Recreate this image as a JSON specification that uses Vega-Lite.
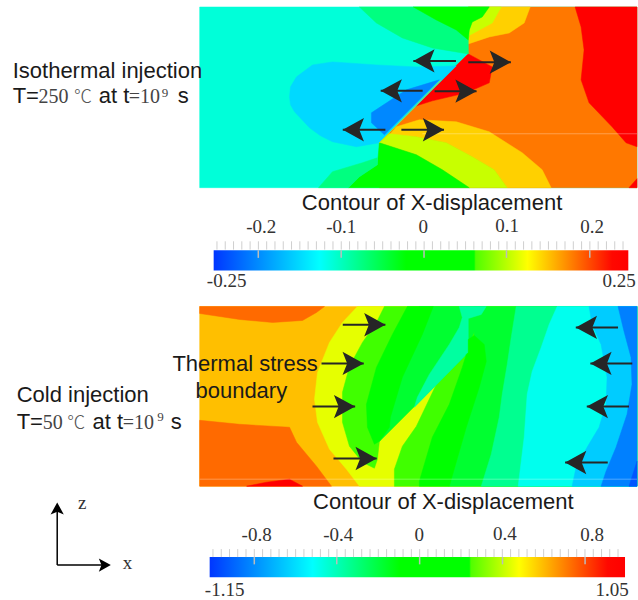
{"$schema":"https://vega.github.io/schema/vega-lite/v6.json","width":638,"height":600,"padding":0,"autosize":{"type":"fit","contains":"padding"},"background":"white","config":{"view":{"stroke":null}},
"datasets":{
"regions":[
{"region":"a01","band":"aqua","seq":1,"x":200,"y":7},{"region":"a01","band":"aqua","seq":2,"x":638,"y":7},{"region":"a01","band":"aqua","seq":3,"x":638,"y":188},{"region":"a01","band":"aqua","seq":4,"x":200,"y":188},
{"region":"a02","band":"orange","seq":1,"x":469,"y":7},{"region":"a02","band":"orange","seq":2,"x":638,"y":7},{"region":"a02","band":"orange","seq":3,"x":638,"y":188},{"region":"a02","band":"orange","seq":4,"x":380,"y":188},{"region":"a02","band":"orange","seq":5,"x":380,"y":143},{"region":"a02","band":"orange","seq":6,"x":469,"y":54},
{"region":"a03","band":"red","seq":1,"x":576,"y":7},{"region":"a03","band":"red","seq":2,"x":638,"y":7},{"region":"a03","band":"red","seq":3,"x":638,"y":147},{"region":"a03","band":"red","seq":4,"x":627,"y":143},{"region":"a03","band":"red","seq":5,"x":613,"y":127},{"region":"a03","band":"red","seq":6,"x":590,"y":103},{"region":"a03","band":"red","seq":7,"x":582,"y":80},{"region":"a03","band":"red","seq":8,"x":585,"y":50},{"region":"a03","band":"red","seq":9,"x":582,"y":27},
{"region":"a04","band":"red","seq":1,"x":638,"y":179},{"region":"a04","band":"red","seq":2,"x":630,"y":188},{"region":"a04","band":"red","seq":3,"x":638,"y":188},
{"region":"a05","band":"gold","seq":1,"x":469,"y":7},{"region":"a05","band":"gold","seq":2,"x":531,"y":7},{"region":"a05","band":"gold","seq":3,"x":525,"y":23},{"region":"a05","band":"gold","seq":4,"x":510,"y":33},{"region":"a05","band":"gold","seq":5,"x":490,"y":37},{"region":"a05","band":"gold","seq":6,"x":469,"y":44},
{"region":"a06","band":"red","seq":1,"x":469,"y":54},{"region":"a06","band":"red","seq":2,"x":493,"y":67},{"region":"a06","band":"red","seq":3,"x":490,"y":83},{"region":"a06","band":"red","seq":4,"x":467,"y":93},{"region":"a06","band":"red","seq":5,"x":433,"y":101},{"region":"a06","band":"red","seq":6,"x":414,"y":107},
{"region":"a07","band":"sky","seq":1,"x":290,"y":97},{"region":"a07","band":"sky","seq":2,"x":291,"y":87},{"region":"a07","band":"sky","seq":3,"x":297,"y":77},{"region":"a07","band":"sky","seq":4,"x":313,"y":65},{"region":"a07","band":"sky","seq":5,"x":333,"y":62},{"region":"a07","band":"sky","seq":6,"x":377,"y":65},{"region":"a07","band":"sky","seq":7,"x":417,"y":67},{"region":"a07","band":"sky","seq":8,"x":457,"y":66},{"region":"a07","band":"sky","seq":9,"x":380,"y":143},{"region":"a07","band":"sky","seq":10,"x":357,"y":147},{"region":"a07","band":"sky","seq":11,"x":333,"y":142},{"region":"a07","band":"sky","seq":12,"x":321,"y":136},{"region":"a07","band":"sky","seq":13,"x":310,"y":128},{"region":"a07","band":"sky","seq":14,"x":295,"y":112},{"region":"a07","band":"sky","seq":15,"x":291,"y":105},
{"region":"a08","band":"azure","seq":1,"x":440,"y":80},{"region":"a08","band":"azure","seq":2,"x":407,"y":90},{"region":"a08","band":"azure","seq":3,"x":372,"y":113},{"region":"a08","band":"azure","seq":4,"x":372,"y":123},{"region":"a08","band":"azure","seq":5,"x":385,"y":135},
{"region":"a09","band":"gold","seq":1,"x":397,"y":127},{"region":"a09","band":"gold","seq":2,"x":420,"y":120},{"region":"a09","band":"gold","seq":3,"x":457,"y":122},{"region":"a09","band":"gold","seq":4,"x":490,"y":132},{"region":"a09","band":"gold","seq":5,"x":523,"y":153},{"region":"a09","band":"gold","seq":6,"x":543,"y":170},{"region":"a09","band":"gold","seq":7,"x":552,"y":188},{"region":"a09","band":"gold","seq":8,"x":508,"y":188},{"region":"a09","band":"gold","seq":9,"x":495,"y":170},{"region":"a09","band":"gold","seq":10,"x":473,"y":157},{"region":"a09","band":"gold","seq":11,"x":447,"y":143},{"region":"a09","band":"gold","seq":12,"x":417,"y":137},{"region":"a09","band":"gold","seq":13,"x":390,"y":135},
{"region":"a10","band":"lemon","seq":1,"x":380,"y":143},{"region":"a10","band":"lemon","seq":2,"x":390,"y":134},{"region":"a10","band":"lemon","seq":3,"x":417,"y":137},{"region":"a10","band":"lemon","seq":4,"x":447,"y":143},{"region":"a10","band":"lemon","seq":5,"x":473,"y":157},{"region":"a10","band":"lemon","seq":6,"x":495,"y":170},{"region":"a10","band":"lemon","seq":7,"x":508,"y":188},{"region":"a10","band":"lemon","seq":8,"x":470,"y":188},{"region":"a10","band":"lemon","seq":9,"x":443,"y":170},{"region":"a10","band":"lemon","seq":10,"x":417,"y":155},
{"region":"a11","band":"green","seq":1,"x":380,"y":143},{"region":"a11","band":"green","seq":2,"x":417,"y":155},{"region":"a11","band":"green","seq":3,"x":443,"y":170},{"region":"a11","band":"green","seq":4,"x":470,"y":188},{"region":"a11","band":"green","seq":5,"x":349,"y":188},{"region":"a11","band":"green","seq":6,"x":360,"y":177},{"region":"a11","band":"green","seq":7,"x":378,"y":165},
{"region":"a12","band":"sea","seq":1,"x":378,"y":158},{"region":"a12","band":"sea","seq":2,"x":363,"y":163},{"region":"a12","band":"sea","seq":3,"x":333,"y":172},{"region":"a12","band":"sea","seq":4,"x":319,"y":188},{"region":"a12","band":"sea","seq":5,"x":349,"y":188},{"region":"a12","band":"sea","seq":6,"x":360,"y":177},{"region":"a12","band":"sea","seq":7,"x":378,"y":165},
{"region":"a13","band":"sea","seq":1,"x":360,"y":7},{"region":"a13","band":"sea","seq":2,"x":377,"y":23},{"region":"a13","band":"sea","seq":3,"x":403,"y":38},{"region":"a13","band":"sea","seq":4,"x":433,"y":48},{"region":"a13","band":"sea","seq":5,"x":469,"y":54},{"region":"a13","band":"sea","seq":6,"x":469,"y":40},{"region":"a13","band":"sea","seq":7,"x":472,"y":23},{"region":"a13","band":"sea","seq":8,"x":490,"y":7},
{"region":"a14","band":"lemon","seq":1,"x":490,"y":7},{"region":"a14","band":"lemon","seq":2,"x":502,"y":7},{"region":"a14","band":"lemon","seq":3,"x":493,"y":23},{"region":"a14","band":"lemon","seq":4,"x":469,"y":36},{"region":"a14","band":"lemon","seq":5,"x":469,"y":40},{"region":"a14","band":"lemon","seq":6,"x":470,"y":30},{"region":"a14","band":"lemon","seq":7,"x":473,"y":22},{"region":"a14","band":"lemon","seq":8,"x":483,"y":17},
{"region":"a15","band":"green","seq":1,"x":414,"y":7},{"region":"a15","band":"green","seq":2,"x":437,"y":20},{"region":"a15","band":"green","seq":3,"x":457,"y":30},{"region":"a15","band":"green","seq":4,"x":469,"y":40},{"region":"a15","band":"green","seq":5,"x":470,"y":30},{"region":"a15","band":"green","seq":6,"x":473,"y":22},{"region":"a15","band":"green","seq":7,"x":483,"y":17},{"region":"a15","band":"green","seq":8,"x":490,"y":7},
{"region":"b01","band":"amber","seq":1,"x":200,"y":307},{"region":"b01","band":"amber","seq":2,"x":638,"y":307},{"region":"b01","band":"amber","seq":3,"x":638,"y":487},{"region":"b01","band":"amber","seq":4,"x":200,"y":487},
{"region":"b02","band":"tangerine","seq":1,"x":200,"y":307},{"region":"b02","band":"tangerine","seq":2,"x":325,"y":307},{"region":"b02","band":"tangerine","seq":3,"x":317,"y":313},{"region":"b02","band":"tangerine","seq":4,"x":303,"y":321},{"region":"b02","band":"tangerine","seq":5,"x":273,"y":323},{"region":"b02","band":"tangerine","seq":6,"x":240,"y":320},{"region":"b02","band":"tangerine","seq":7,"x":200,"y":314},
{"region":"b03","band":"tangerine","seq":1,"x":200,"y":421},{"region":"b03","band":"tangerine","seq":2,"x":240,"y":425},{"region":"b03","band":"tangerine","seq":3,"x":290,"y":428},{"region":"b03","band":"tangerine","seq":4,"x":297,"y":443},{"region":"b03","band":"tangerine","seq":5,"x":317,"y":467},{"region":"b03","band":"tangerine","seq":6,"x":332,"y":487},{"region":"b03","band":"tangerine","seq":7,"x":200,"y":487},
{"region":"b04","band":"red","seq":1,"x":247,"y":487},{"region":"b04","band":"red","seq":2,"x":267,"y":483},{"region":"b04","band":"red","seq":3,"x":290,"y":480},{"region":"b04","band":"red","seq":4,"x":303,"y":487},
{"region":"b05","band":"yellow","seq":1,"x":358,"y":307},{"region":"b05","band":"yellow","seq":2,"x":343,"y":323},{"region":"b05","band":"yellow","seq":3,"x":330,"y":343},{"region":"b05","band":"yellow","seq":4,"x":318,"y":373},{"region":"b05","band":"yellow","seq":5,"x":315,"y":400},{"region":"b05","band":"yellow","seq":6,"x":318,"y":423},{"region":"b05","band":"yellow","seq":7,"x":330,"y":450},{"region":"b05","band":"yellow","seq":8,"x":347,"y":470},{"region":"b05","band":"yellow","seq":9,"x":360,"y":487},{"region":"b05","band":"yellow","seq":10,"x":638,"y":487},{"region":"b05","band":"yellow","seq":11,"x":638,"y":307},
{"region":"b06","band":"lime","seq":1,"x":385,"y":307},{"region":"b06","band":"lime","seq":2,"x":377,"y":323},{"region":"b06","band":"lime","seq":3,"x":363,"y":343},{"region":"b06","band":"lime","seq":4,"x":350,"y":367},{"region":"b06","band":"lime","seq":5,"x":343,"y":393},{"region":"b06","band":"lime","seq":6,"x":343,"y":423},{"region":"b06","band":"lime","seq":7,"x":350,"y":447},{"region":"b06","band":"lime","seq":8,"x":363,"y":463},{"region":"b06","band":"lime","seq":9,"x":375,"y":469},{"region":"b06","band":"lime","seq":10,"x":378,"y":460},{"region":"b06","band":"lime","seq":11,"x":380,"y":442},{"region":"b06","band":"lime","seq":12,"x":437,"y":385},{"region":"b06","band":"lime","seq":13,"x":417,"y":427},{"region":"b06","band":"lime","seq":14,"x":403,"y":447},{"region":"b06","band":"lime","seq":15,"x":395,"y":470},{"region":"b06","band":"lime","seq":16,"x":395,"y":487},{"region":"b06","band":"lime","seq":17,"x":638,"y":487},{"region":"b06","band":"lime","seq":18,"x":638,"y":307},
{"region":"b07","band":"spring","seq":1,"x":420,"y":307},{"region":"b07","band":"spring","seq":2,"x":487,"y":307},{"region":"b07","band":"spring","seq":3,"x":469,"y":345},{"region":"b07","band":"spring","seq":4,"x":468,"y":354},{"region":"b07","band":"spring","seq":5,"x":380,"y":442},{"region":"b07","band":"spring","seq":6,"x":375,"y":420},{"region":"b07","band":"spring","seq":7,"x":400,"y":350},
{"region":"b08","band":"green","seq":1,"x":408,"y":307},{"region":"b08","band":"green","seq":2,"x":393,"y":335},{"region":"b08","band":"green","seq":3,"x":377,"y":368},{"region":"b08","band":"green","seq":4,"x":367,"y":405},{"region":"b08","band":"green","seq":5,"x":368,"y":428},{"region":"b08","band":"green","seq":6,"x":375,"y":445},{"region":"b08","band":"green","seq":7,"x":380,"y":442},{"region":"b08","band":"green","seq":8,"x":390,"y":428},{"region":"b08","band":"green","seq":9,"x":391,"y":418},{"region":"b08","band":"green","seq":10,"x":403,"y":378},{"region":"b08","band":"green","seq":11,"x":423,"y":335},{"region":"b08","band":"green","seq":12,"x":434,"y":307},
{"region":"b09","band":"spring","seq":1,"x":475,"y":307},{"region":"b09","band":"spring","seq":2,"x":475,"y":336},{"region":"b09","band":"spring","seq":3,"x":467,"y":428},{"region":"b09","band":"spring","seq":4,"x":450,"y":487},{"region":"b09","band":"spring","seq":5,"x":638,"y":487},{"region":"b09","band":"spring","seq":6,"x":638,"y":307},
{"region":"b10","band":"mint","seq":1,"x":460,"y":307},{"region":"b10","band":"mint","seq":2,"x":487,"y":307},{"region":"b10","band":"mint","seq":3,"x":482,"y":315},{"region":"b10","band":"mint","seq":4,"x":469,"y":319},{"region":"b10","band":"mint","seq":5,"x":469,"y":353},{"region":"b10","band":"mint","seq":6,"x":415,"y":408},{"region":"b10","band":"mint","seq":7,"x":418,"y":398},{"region":"b10","band":"mint","seq":8,"x":430,"y":375},{"region":"b10","band":"mint","seq":9,"x":450,"y":345},{"region":"b10","band":"mint","seq":10,"x":460,"y":328},{"region":"b10","band":"mint","seq":11,"x":463,"y":318},
{"region":"b11","band":"green","seq":1,"x":475,"y":336},{"region":"b11","band":"green","seq":2,"x":485,"y":345},{"region":"b11","band":"green","seq":3,"x":487,"y":362},{"region":"b11","band":"green","seq":4,"x":480,"y":388},{"region":"b11","band":"green","seq":5,"x":467,"y":428},{"region":"b11","band":"green","seq":6,"x":450,"y":487},{"region":"b11","band":"green","seq":7,"x":420,"y":487},{"region":"b11","band":"green","seq":8,"x":420,"y":482},{"region":"b11","band":"green","seq":9,"x":433,"y":438},{"region":"b11","band":"green","seq":10,"x":450,"y":405},{"region":"b11","band":"green","seq":11,"x":463,"y":368},{"region":"b11","band":"green","seq":12,"x":467,"y":355},{"region":"b11","band":"green","seq":13,"x":469,"y":353},{"region":"b11","band":"green","seq":14,"x":469,"y":340},
{"region":"b12","band":"seafoam","seq":1,"x":517,"y":307},{"region":"b12","band":"seafoam","seq":2,"x":512,"y":338},{"region":"b12","band":"seafoam","seq":3,"x":508,"y":365},{"region":"b12","band":"seafoam","seq":4,"x":503,"y":395},{"region":"b12","band":"seafoam","seq":5,"x":500,"y":418},{"region":"b12","band":"seafoam","seq":6,"x":492,"y":455},{"region":"b12","band":"seafoam","seq":7,"x":482,"y":487},{"region":"b12","band":"seafoam","seq":8,"x":638,"y":487},{"region":"b12","band":"seafoam","seq":9,"x":638,"y":307},
{"region":"b13","band":"cyan","seq":1,"x":558,"y":307},{"region":"b13","band":"cyan","seq":2,"x":550,"y":325},{"region":"b13","band":"cyan","seq":3,"x":542,"y":348},{"region":"b13","band":"cyan","seq":4,"x":533,"y":372},{"region":"b13","band":"cyan","seq":5,"x":528,"y":395},{"region":"b13","band":"cyan","seq":6,"x":525,"y":438},{"region":"b13","band":"cyan","seq":7,"x":519,"y":487},{"region":"b13","band":"cyan","seq":8,"x":638,"y":487},{"region":"b13","band":"cyan","seq":9,"x":638,"y":307},
{"region":"b14","band":"sky2","seq":1,"x":590,"y":307},{"region":"b14","band":"sky2","seq":2,"x":593,"y":325},{"region":"b14","band":"sky2","seq":3,"x":602,"y":345},{"region":"b14","band":"sky2","seq":4,"x":608,"y":378},{"region":"b14","band":"sky2","seq":5,"x":607,"y":405},{"region":"b14","band":"sky2","seq":6,"x":600,"y":428},{"region":"b14","band":"sky2","seq":7,"x":588,"y":448},{"region":"b14","band":"sky2","seq":8,"x":577,"y":468},{"region":"b14","band":"sky2","seq":9,"x":573,"y":487},{"region":"b14","band":"sky2","seq":10,"x":638,"y":487},{"region":"b14","band":"sky2","seq":11,"x":638,"y":307},
{"region":"b15","band":"azure2","seq":1,"x":619,"y":307},{"region":"b15","band":"azure2","seq":2,"x":625,"y":332},{"region":"b15","band":"azure2","seq":3,"x":632,"y":358},{"region":"b15","band":"azure2","seq":4,"x":633,"y":385},{"region":"b15","band":"azure2","seq":5,"x":628,"y":415},{"region":"b15","band":"azure2","seq":6,"x":617,"y":448},{"region":"b15","band":"azure2","seq":7,"x":607,"y":472},{"region":"b15","band":"azure2","seq":8,"x":602,"y":487},{"region":"b15","band":"azure2","seq":9,"x":638,"y":487},{"region":"b15","band":"azure2","seq":10,"x":638,"y":307},
{"region":"b16","band":"deep","seq":1,"x":638,"y":462},{"region":"b16","band":"deep","seq":2,"x":630,"y":487},{"region":"b16","band":"deep","seq":3,"x":638,"y":487}
],
"minor":[{"x":217.3,"y":241.7,"y2":250},{"x":225.6,"y":241.7,"y2":250},{"x":233.9,"y":241.7,"y2":250},{"x":242.2,"y":241.7,"y2":250},{"x":250.5,"y":241.7,"y2":250},{"x":258.8,"y":241.7,"y2":250},{"x":267.1,"y":241.7,"y2":250},{"x":275.4,"y":241.7,"y2":250},{"x":283.7,"y":241.7,"y2":250},{"x":292,"y":241.7,"y2":250},{"x":300.3,"y":241.7,"y2":250},{"x":308.6,"y":241.7,"y2":250},{"x":316.9,"y":241.7,"y2":250},{"x":325.2,"y":241.7,"y2":250},{"x":333.5,"y":241.7,"y2":250},{"x":341.8,"y":241.7,"y2":250},{"x":350.1,"y":241.7,"y2":250},{"x":358.4,"y":241.7,"y2":250},{"x":366.7,"y":241.7,"y2":250},{"x":375,"y":241.7,"y2":250},{"x":383.3,"y":241.7,"y2":250},{"x":391.6,"y":241.7,"y2":250},{"x":399.9,"y":241.7,"y2":250},{"x":408.2,"y":241.7,"y2":250},{"x":416.5,"y":241.7,"y2":250},{"x":424.8,"y":241.7,"y2":250},{"x":433.1,"y":241.7,"y2":250},{"x":441.4,"y":241.7,"y2":250},{"x":449.7,"y":241.7,"y2":250},{"x":458,"y":241.7,"y2":250},{"x":466.3,"y":241.7,"y2":250},{"x":474.6,"y":241.7,"y2":250},{"x":482.9,"y":241.7,"y2":250},{"x":491.2,"y":241.7,"y2":250},{"x":499.5,"y":241.7,"y2":250},{"x":507.8,"y":241.7,"y2":250},{"x":516.1,"y":241.7,"y2":250},{"x":524.4,"y":241.7,"y2":250},{"x":532.7,"y":241.7,"y2":250},{"x":541,"y":241.7,"y2":250},{"x":549.3,"y":241.7,"y2":250},{"x":557.6,"y":241.7,"y2":250},{"x":565.9,"y":241.7,"y2":250},{"x":574.2,"y":241.7,"y2":250},{"x":582.5,"y":241.7,"y2":250},{"x":590.8,"y":241.7,"y2":250},{"x":599.1,"y":241.7,"y2":250},{"x":607.4,"y":241.7,"y2":250},{"x":615.7,"y":241.7,"y2":250},{"x":624,"y":241.7,"y2":250},
{"x":213.3,"y":550,"y2":558},{"x":221.6,"y":550,"y2":558},{"x":229.9,"y":550,"y2":558},{"x":238.1,"y":550,"y2":558},{"x":246.4,"y":550,"y2":558},{"x":254.7,"y":550,"y2":558},{"x":263,"y":550,"y2":558},{"x":271.3,"y":550,"y2":558},{"x":279.5,"y":550,"y2":558},{"x":287.8,"y":550,"y2":558},{"x":296.1,"y":550,"y2":558},{"x":304.4,"y":550,"y2":558},{"x":312.7,"y":550,"y2":558},{"x":320.9,"y":550,"y2":558},{"x":329.2,"y":550,"y2":558},{"x":337.5,"y":550,"y2":558},{"x":345.8,"y":550,"y2":558},{"x":354.1,"y":550,"y2":558},{"x":362.3,"y":550,"y2":558},{"x":370.6,"y":550,"y2":558},{"x":378.9,"y":550,"y2":558},{"x":387.2,"y":550,"y2":558},{"x":395.5,"y":550,"y2":558},{"x":403.7,"y":550,"y2":558},{"x":412,"y":550,"y2":558},{"x":420.3,"y":550,"y2":558},{"x":428.6,"y":550,"y2":558},{"x":436.9,"y":550,"y2":558},{"x":445.1,"y":550,"y2":558},{"x":453.4,"y":550,"y2":558},{"x":461.7,"y":550,"y2":558},{"x":470,"y":550,"y2":558},{"x":478.3,"y":550,"y2":558},{"x":486.5,"y":550,"y2":558},{"x":494.8,"y":550,"y2":558},{"x":503.1,"y":550,"y2":558},{"x":511.4,"y":550,"y2":558},{"x":519.7,"y":550,"y2":558},{"x":527.9,"y":550,"y2":558},{"x":536.2,"y":550,"y2":558},{"x":544.5,"y":550,"y2":558},{"x":552.8,"y":550,"y2":558},{"x":561.1,"y":550,"y2":558},{"x":569.3,"y":550,"y2":558},{"x":577.6,"y":550,"y2":558},{"x":585.9,"y":550,"y2":558},{"x":594.2,"y":550,"y2":558},{"x":602.5,"y":550,"y2":558},{"x":610.7,"y":550,"y2":558},{"x":619,"y":550,"y2":558}],
"major":[{"x":258.7,"y":250.7,"y2":258.3},{"x":341.7,"y":250.7,"y2":258.3},{"x":424.7,"y":250.7,"y2":258.3},{"x":507.3,"y":250.7,"y2":258.3},{"x":590.7,"y":250.7,"y2":258.3},{"x":254.7,"y":558,"y2":565.3},{"x":337.3,"y":558,"y2":565.3},{"x":420.3,"y":558,"y2":565.3},{"x":503.3,"y":558,"y2":565.3},{"x":586,"y":558,"y2":565.3}],
"arrows":[{"tail":456.7,"tip":414,"y":61,"dir":"left"},{"tail":423.3,"tip":381.3,"y":91,"dir":"left"},{"tail":386,"tip":343.3,"y":130,"dir":"left"},{"tail":469,"tip":511.7,"y":62.3,"dir":"right"},{"tail":435.3,"tip":477.3,"y":91.3,"dir":"right"},{"tail":402,"tip":444.7,"y":130,"dir":"right"},{"tail":343.3,"tip":386,"y":325.3,"dir":"right"},{"tail":322,"tip":364.3,"y":364,"dir":"right"},{"tail":313,"tip":355.7,"y":407.3,"dir":"right"},{"tail":334,"tip":377.3,"y":459.3,"dir":"right"},{"tail":619,"tip":576.7,"y":328,"dir":"left"},{"tail":633.3,"tip":591.3,"y":364,"dir":"left"},{"tail":630,"tip":587.7,"y":407.3,"dir":"left"},{"tail":608.7,"tip":566,"y":463.3,"dir":"left"}]
},
"encoding":{"x":{"field":"x","type":"quantitative","scale":{"domain":[0,638],"nice":false,"zero":false},"axis":null},"y":{"field":"y","type":"quantitative","scale":{"domain":[600,0],"nice":false,"zero":false},"axis":null}},
"layer":[
{"data":{"name":"regions"},"mark":{"type":"line","interpolate":"linear-closed","strokeWidth":0.5},"encoding":{"detail":{"field":"region"},"order":{"field":"seq","type":"quantitative"},"fill":{"field":"band","type":"nominal","legend":null,"scale":{"domain":["aqua","orange","red","gold","sky","azure","lemon","green","sea","amber","tangerine","yellow","lime","spring","mint","seafoam","cyan","sky2","azure2","deep"],"range":["#00ffd9","#ff7800","#ff0000","#ffd000","#00d9ff","#0088ff","#c8ff00","#00ff00","#00ff80","#ffbf00","#ff6a00","#e6ff00","#40ff00","#00ff30","#00ffa0","#00ff90","#00ffee","#00ccff","#0080ff","#0055ff"]}},"stroke":{"field":"band","type":"nominal","legend":null,"scale":{"domain":["aqua","orange","red","gold","sky","azure","lemon","green","sea","amber","tangerine","yellow","lime","spring","mint","seafoam","cyan","sky2","azure2","deep"],"range":["#00ffd9","#ff7800","#ff0000","#ffd000","#00d9ff","#0088ff","#c8ff00","#00ff00","#00ff80","#ffbf00","#ff6a00","#e6ff00","#40ff00","#00ff30","#00ffa0","#00ff90","#00ffee","#00ccff","#0080ff","#0055ff"]}}}},
{"data":{"values":[{"x":442,"x2":380,"y":80,"y2":143}]},"mark":{"type":"rule","color":"#a8e830","strokeWidth":1},"encoding":{"x2":{"field":"x2"},"y2":{"field":"y2"}}},
{"data":{"values":[{"x":423,"x2":638,"y":134},{"x":200,"x2":638,"y":480}]},"mark":{"type":"rule","color":"#ffffff","opacity":0.3,"strokeWidth":1},"encoding":{"x2":{"field":"x2"}}},
{"data":{"values":[{"x":214,"x2":629.3,"y":250.7,"y2":271}]},"mark":{"type":"rect","color":{"gradient":"linear","x1":0,"y1":0,"x2":1,"y2":0,"stops":[{"offset":0,"color":"#0036ff"},{"offset":0.255,"color":"#00ffff"},{"offset":0.464,"color":"#00ff00"},{"offset":0.628,"color":"#00ff00"},{"offset":0.632,"color":"#50ff00"},{"offset":0.757,"color":"#ffff00"},{"offset":0.961,"color":"#ff0800"},{"offset":1,"color":"#ff0000"}]}},"encoding":{"x2":{"field":"x2"},"y2":{"field":"y2"}}},
{"data":{"values":[{"x":210,"x2":626,"y":558,"y2":578.3}]},"mark":{"type":"rect","color":{"gradient":"linear","x1":0,"y1":0,"x2":1,"y2":0,"stops":[{"offset":0,"color":"#0036ff"},{"offset":0.248,"color":"#00ffff"},{"offset":0.457,"color":"#00ff00"},{"offset":0.625,"color":"#00ff00"},{"offset":0.629,"color":"#50ff00"},{"offset":0.745,"color":"#ffff00"},{"offset":0.958,"color":"#ff0800"},{"offset":1,"color":"#ff0000"}]}},"encoding":{"x2":{"field":"x2"},"y2":{"field":"y2"}}},
{"data":{"name":"minor"},"mark":{"type":"rule","color":"#cfcfcf","strokeWidth":1},"encoding":{"y2":{"field":"y2"}}},
{"data":{"name":"major"},"mark":{"type":"rule","color":"#bcbcbc","strokeWidth":1.5},"encoding":{"y2":{"field":"y2"}}},
{"data":{"name":"arrows"},"mark":{"type":"rule","color":"#262626","strokeWidth":2},"encoding":{"x":{"field":"tail","type":"quantitative"},"x2":{"field":"tip"}}},
{"data":{"name":"arrows"},"mark":{"type":"point","filled":true,"color":"#262626","opacity":1,"size":1800,"strokeWidth":0},"encoding":{"x":{"field":"tip","type":"quantitative"},"shape":{"field":"dir","type":"nominal","legend":null,"scale":{"domain":["left","right","up"],"range":["M0,0L1,-0.55L0.78,0L1,0.55Z","M0,0L-1,-0.55L-0.78,0L-1,0.55Z","M0,0L-0.55,1L0,0.78L0.55,1Z"]}}}},
{"data":{"values":[{"x":57.3,"x2":57.3,"y":566,"y2":506},{"x":57.3,"x2":108,"y":566,"y2":566}]},"mark":{"type":"rule","color":"#000000","strokeWidth":1.5},"encoding":{"x2":{"field":"x2"},"y2":{"field":"y2"}}},
{"data":{"values":[{"x":57.3,"y":503.3,"dir":"up"},{"x":111,"y":566,"dir":"right"}]},"mark":{"type":"point","filled":true,"color":"#000000","opacity":1,"size":576,"strokeWidth":0},"encoding":{"shape":{"field":"dir","type":"nominal","legend":null,"scale":{"domain":["left","right","up"],"range":["M0,0L1,-0.55L0.78,0L1,0.55Z","M0,0L-1,-0.55L-0.78,0L-1,0.55Z","M0,0L-0.55,1L0,0.78L0.55,1Z"]}}}},
{"data":{"values":[{"label":"Isothermal injection","x":12.7,"y":78.3},{"label":"T=","x":12.7,"y":103.3},{"label":"at t","x":99,"y":103.3},{"label":"s","x":178,"y":103.3},{"label":"Cold injection","x":16.7,"y":402.7},{"label":"T=","x":16.7,"y":429.3},{"label":"at t","x":92.7,"y":429.3},{"label":"s","x":171,"y":429.3}]},"mark":{"type":"text","font":"Liberation Sans","fontSize":22,"align":"left","baseline":"alphabetic","color":"#1a1a1a"},"encoding":{"text":{"field":"label"}}},
{"data":{"values":[{"label":"Contour of X-displacement","x":432.7,"y":210},{"label":"Contour of X-displacement","x":444,"y":510},{"label":"Thermal stress","x":245.5,"y":371.7},{"label":"boundary","x":241.7,"y":399}]},"mark":{"type":"text","font":"Liberation Sans","fontSize":22,"align":"center","baseline":"alphabetic","color":"#1a1a1a"},"encoding":{"text":{"field":"label"}}},
{"data":{"values":[{"label":"-0.2","x":261.7,"y":233.3},{"label":"-0.1","x":341.7,"y":233.3},{"label":"0","x":424,"y":233.3},{"label":"0.1","x":508,"y":232.7},{"label":"0.2","x":593,"y":233.3},{"label":"-0.25","x":227,"y":287.7},{"label":"0.25","x":620,"y":287.7},{"label":"-0.8","x":257,"y":541.7},{"label":"-0.4","x":338.7,"y":541.7},{"label":"0","x":420,"y":541.7},{"label":"0.4","x":505.7,"y":540.7},{"label":"0.8","x":593,"y":541.7},{"label":"-1.15","x":225,"y":596.7},{"label":"1.05","x":613,"y":596.7},{"label":"z","x":82.3,"y":510},{"label":"x","x":127.7,"y":570}]},"mark":{"type":"text","font":"Liberation Serif","fontSize":19,"align":"center","baseline":"alphabetic","color":"#333333"},"encoding":{"text":{"field":"label"}}},
{"data":{"values":[{"label":"250","x":38.5,"y":103.3},{"label":"=10","x":129,"y":103.3},{"label":"50","x":42.7,"y":429.3},{"label":"=10","x":123,"y":429.3}]},"mark":{"type":"text","font":"Liberation Serif","fontSize":20,"align":"left","baseline":"alphabetic","color":"#444444"},"encoding":{"text":{"field":"label"}}},
{"data":{"values":[{"label":"℃","x":74,"y":103.3},{"label":"℃","x":67.3,"y":429.3}]},"mark":{"type":"text","font":"Noto Sans CJK SC","fontSize":18,"fontWeight":300,"align":"left","baseline":"alphabetic","color":"#555555"},"encoding":{"text":{"field":"label"}}},
{"data":{"values":[{"label":"9","x":162,"y":96.7},{"label":"9","x":157.5,"y":421.7}]},"mark":{"type":"text","font":"Liberation Serif","fontSize":13,"align":"left","baseline":"alphabetic","color":"#444444"},"encoding":{"text":{"field":"label"}}}
]}
